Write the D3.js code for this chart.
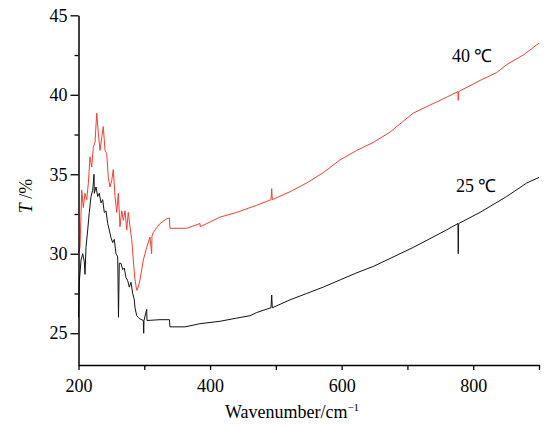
<!DOCTYPE html>
<html lang="en">
<head>
    <meta charset="UTF-8">
    <title>Transmittance</title>
    <script src="https://d3js.org/d3.v7.min.js"></script>
</head>
<style type="text/css">
    body { margin: 0; background: white; }
    text { font-family: "Liberation Serif", "Times New Roman", serif; fill: black; }
</style>
<body>
<div id="chart"></div>
<script>
    // 25 C curve (black)
    var wn25 = [200, 201.2, 203.8, 206.4, 208.8, 209.9, 211.4, 214, 216.4, 219, 221.6, 223.6, 224, 226.6, 229.2,
        231.6, 234.2, 236.8, 239.2, 241.8, 244.4, 246.8, 249.4, 252, 254.4, 257, 259.6, 260.8, 262, 264.6, 267.2,
        269.6, 272.2, 274.8, 277.2, 279.8, 282.4, 284.8, 285.9, 288.5, 290.9, 293.5, 298.5, 299.1, 299.6, 303.7,
        304.1, 324, 338.3, 339, 362, 384.7, 415, 440.5, 460.7, 470.9, 492.6, 493.7, 494.6, 521.5, 546.9, 572,
        597.5, 622.9, 648, 673.5, 709, 759.7, 776.8, 777.3, 777.8, 810.3, 850.9, 881.3, 900];
    var t25 = [26.0, 28.2, 29.6, 30.0, 29.5, 28.7, 30.4, 31.5, 32.6, 33.6, 34.0, 35.0, 33.8, 34.2, 33.6,
        33.8, 33.2, 33.4, 32.6, 32.7, 31.9, 31.5, 31.0, 30.7, 30.9, 30.0, 29.8, 26.0, 29.4, 29.4, 29.0,
        29.1, 28.5, 28.3, 27.9, 28.2, 27.5, 27.1, 26.6, 26.1, 26.0, 25.9, 25.8, 25.0, 25.8, 26.5,
        25.8, 25.85, 25.85, 25.4, 25.4, 25.6, 25.75, 25.95, 26.1, 26.3, 26.6, 27.4, 26.6, 27.1, 27.5, 27.9,
        28.35, 28.8, 29.2, 29.7, 30.4, 31.5, 31.9, 30.0, 31.9, 32.6, 33.6, 34.45, 34.8];

    // 40 C curve (red)
    var wn40 = [200, 202.3, 204.9, 207.3, 209.9, 212.5, 214.9, 217.5, 220.1, 222.5, 225.1, 227.7, 230.1, 232.7,
        235.3, 237.7, 240.3, 242.9, 245.3, 247.9, 250.5, 252.9, 255.5, 258.1, 260.5, 263.1, 265.7, 268.1, 270.7,
        273.3, 275.7, 278.3, 280.9, 283.3, 285.9, 288.5, 290.9, 293.5, 298.5, 303.7, 308.7, 311.2, 311.7, 313.7,
        323.9, 334.1, 338, 339, 364.5, 384.7, 385.1, 415, 440.5, 460.7, 470.9, 492.6, 493.7, 494.6, 521.5,
        546.9, 572, 597.5, 622.9, 648, 673.5, 683.7, 709, 734.3, 759.7, 776.8, 777.3, 777.8, 810.3, 835.7,
        850.9, 876.1, 900];
    var t40 = [30.05, 30.4, 34.0, 32.9, 33.8, 33.4, 34.4, 36.1, 35.45, 36.7, 37.0, 38.85, 37.6, 36.5,
        37.3, 38.0, 36.5, 36.3, 34.8, 34.2, 34.6, 35.3, 33.6, 32.6, 33.8, 31.7, 32.7, 32.1, 32.7,
        31.5, 32.6, 31.7, 30.9, 29.6, 28.35, 27.7, 27.9, 28.35, 29.6, 30.4, 31.05, 30.0, 31.1, 31.35,
        31.9, 32.2, 32.25, 31.6, 31.6, 31.9, 31.7, 32.3, 32.6, 32.9, 33.05, 33.4, 34.1, 33.4, 33.9,
        34.45, 35.1, 35.9, 36.5, 37.0, 37.65, 38.0, 38.85, 39.35, 39.85, 40.2, 39.65, 40.2, 40.9, 41.4,
        41.9, 42.5, 43.25];

    var xTicks = [200, 300, 400, 500, 600, 700, 800, 900];
    var xLabels = [200, 400, 600, 800];
    var yMajor = [25, 30, 35, 40, 45];
    var yMinor = [27.5, 32.5, 37.5, 42.5];

    var curveNames = ["40 ℃", "25 ℃"];
    var labelWn = [767.7, 773.8];
    var labelT = [42.06, 33.9];

    var width = 545, height = 427;
    var margin = {left: 78.5, right: 6, top: 15.3, bottom: 62};

    var svg = d3.select("#chart").append("svg").attr("width", width).attr("height", height);

    var x = d3.scaleLinear().domain([200, 900]).range([margin.left, width - margin.right]);
    var y = d3.scaleLinear().domain([23, 45]).range([height - margin.bottom, margin.top]);

    var line = d3.line()
        .x(function (d) { return x(d[0]); })
        .y(function (d) { return y(d[1]); });

    svg.append("path")
        .datum(d3.zip(wn40, t40))
        .attr("d", line)
        .style("fill", "none")
        .style("stroke", "#f2402f")
        .style("stroke-width", 1);

    svg.append("path")
        .datum(d3.zip(wn25, t25))
        .attr("d", line)
        .style("fill", "none")
        .style("stroke", "#111")
        .style("stroke-width", 1);

    // x axis
    var xAxis = svg.append("g")
        .attr("transform", "translate(0," + y(23) + ")")
        .call(d3.axisBottom(x).tickValues(xTicks).tickSize(5).tickSizeOuter(0)
            .tickFormat(function (d) { return xLabels.indexOf(d) >= 0 ? d : ""; }));
    xAxis.select(".domain").style("stroke-width", 1.5);
    xAxis.selectAll(".tick line").style("stroke-width", 1.3);
    xAxis.selectAll("text").style("font-size", "18px").attr("dy", "0.75em").attr("y", 13);

    // y axis
    var yAxis = svg.append("g")
        .attr("transform", "translate(" + x(200) + ",0)")
        .call(d3.axisLeft(y).tickValues(yMajor).tickSize(8).tickSizeOuter(0).tickPadding(3));
    yAxis.select(".domain").style("stroke-width", 1.5);
    yAxis.selectAll(".tick line").style("stroke-width", 1.3);
    yAxis.selectAll("text").style("font-size", "18px");

    var yAxisMinor = svg.append("g")
        .attr("transform", "translate(" + x(200) + ",0)")
        .call(d3.axisLeft(y).tickValues(yMinor).tickSize(4).tickFormat(""));
    yAxisMinor.select(".domain").remove();
    yAxisMinor.selectAll(".tick line").style("stroke-width", 1.3);

    // curve labels
    svg.selectAll(".curve_label")
        .data(curveNames)
        .enter().append("text")
        .attr("class", "curve_label")
        .attr("x", function (d, i) { return x(labelWn[i]); })
        .attr("y", function (d, i) { return y(labelT[i]); })
        .style("font-size", "18px")
        .text(function (d) { return d; });

    // axis titles
    var xt = svg.append("text")
        .attr("x", 292)
        .attr("y", 418)
        .style("text-anchor", "middle")
        .style("font-size", "18px");
    xt.append("tspan").text("Wavenumber/cm");
    xt.append("tspan").text("−1").attr("dy", -7).style("font-size", "11px");

    var yt = svg.append("text")
        .attr("transform", "translate(32,196) rotate(-90)")
        .style("text-anchor", "middle")
        .style("font-size", "18px");
    yt.append("tspan").text("T").style("font-style", "italic");
    yt.append("tspan").text(" /%");
</script>
</body>
</html>
